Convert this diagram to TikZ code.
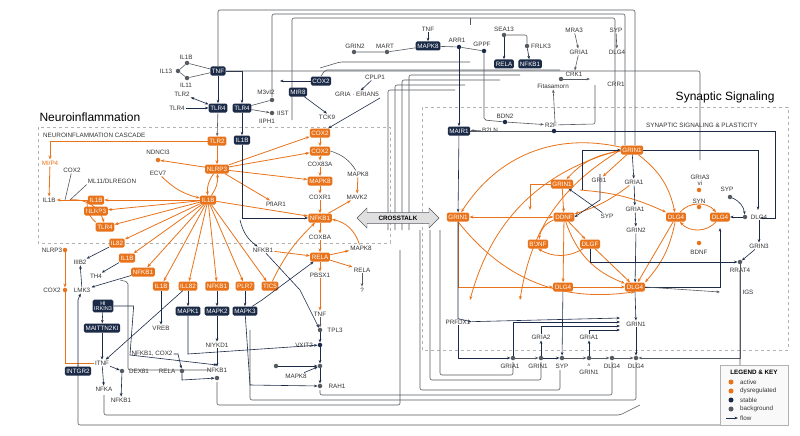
\documentclass[tikz,border=0pt]{standalone}
\usepackage{fontspec}
\setmainfont{Liberation Sans}
\usetikzlibrary{arrows.meta,shapes.arrows}
\definecolor{org}{HTML}{E8731A}
\definecolor{nav}{HTML}{1B2A47}
\definecolor{gr}{HTML}{555A60}
\begin{document}
\begin{tikzpicture}[x=1pt,y=-1pt,font=\fontsize{6.3}{7}\selectfont,
 dk/.style={fill=nav,text=white,rounded corners=1.5pt,inner sep=1.6pt,minimum height=9pt},
 or/.style={fill=org,text=white,rounded corners=1.5pt,inner sep=1.6pt,minimum height=9pt},
 lb/.style={text=black!80,inner sep=1pt},
 dt/.style={circle,fill=gr,inner sep=0pt,minimum size=4.5pt},
 oa/.style={draw=org,thick,-{Stealth[length=4pt]}},
 na/.style={draw=nav,semithick,-{Stealth[length=3.5pt]}},
 ga/.style={draw=gr,semithick,-{Stealth[length=3.5pt]}},
 gl/.style={draw=gr,semithick,rounded corners=2pt}]
\useasboundingbox (0,0) rectangle (800,436);
\fill[white] (0,0) rectangle (800,436);
% boxes
\draw[gray!60,dashed] (38,127) rectangle (390,243);
\draw[gray!60,dashed] (422,107) rectangle (788,350);
\node[anchor=west,font=\fontsize{12}{13}\selectfont] (t1) at (36,117) {Neuroinflammation};
\node[anchor=east,font=\fontsize{12}{13}\selectfont] (t2) at (778,97) {Synaptic Signaling};
\node[anchor=west,lb] (c1) at (42,135) {NEUROINFLAMMATION CASCADE};
\node[anchor=west,lb] (c2) at (645,125) {SYNAPTIC SIGNALING \& PLASTICITY};
% background frame lines
\draw[gl] (218,66) -- (218,10) -- (635,10) -- (635,145);
\draw[gl] (272,97) -- (272,14) -- (625,14) -- (625,145);
\draw[gl] (292,120) -- (292,18) -- (615,18) -- (615,145);
\draw[gl] (470,25) -- (470,18);
\draw[gl] (388,230) -- (388,90) -- (455,90);
\draw[gl] (395,230) -- (395,85) -- (465,85);
\draw[gl] (402,230) -- (402,80) -- (500,80);
\draw[gl] (409,230) -- (409,75) -- (520,75);
\draw[gl] (78,365) -- (78,425) -- (740,425) -- (740,272);
\draw[gl] (104,395) -- (104,415) -- (620,415) -- (640,405);
\draw[gl] (217,382) -- (217,405) -- (400,405) -- (400,250);
\draw[gl] (250,330) -- (250,400) -- (636,400) -- (636,362);
\draw[gl] (320,390) -- (320,395) -- (612,395) -- (612,362);
\draw[gl] (560,370) -- (560,390) -- (420,390) -- (420,230);
\draw[gl] (541,362) -- (541,380) -- (430,380) -- (430,230);
\draw[gl] (513,362) -- (513,375) -- (440,375) -- (440,230);
\draw[gl] (320,68) -- (340,62) -- (470,62);
% top nav cluster
\node[dk] (tnf) at (218,71) {TNF};
\node[dk] (tlr4a) at (218,108) {TLR4};
\node[dk] (tlr4b) at (242,108) {TLR4};
\node[dk] (il1bn) at (242,140) {IL1B};
\node[dk] (mir8) at (298,92) {MIR8};
\node[dk] (cox2n) at (321,81) {COX2};
\node[dk] (mapk8n) at (428,46) {MAPK8};
\node[dk] (relan) at (504,64) {RELA};
\node[dk] (nfkbn) at (530,64) {NFKB1};
\node[dk] (mair1) at (459,131) {MAIR1};
\node[lb] (l_il1b) at (186,57) {IL1B}; \node[dt] (d1) at (187,63) {};
\node[lb] (l_il13) at (166,71) {IL13}; \node[dt] (d2) at (178,71) {};
\node[lb] (l_il11) at (186,85) {IL11}; \node[dt] (d3) at (187,78) {};
\node[lb] (l_tlr2) at (182,94) {TLR2};
\node[lb] (l_tlr4) at (177,108) {TLR4};
\node[lb] (l_m3) at (266,92) {M3vI2}; \node[dt] (d4) at (272,100) {};
\node[dt] (d5) at (272,113) {}; \node[lb] (l_iist) at (283,113) {IIST};
\node[lb] (l_iiph) at (267,121) {IIPH1};
\node[lb] (l_grin2) at (355,46) {GRIN2}; \node[dt] (d6) at (354,52) {};
\node[lb] (l_mart) at (385,46) {MART}; \node[dt] (d7) at (387,52) {};
\node[lb] (l_cplp) at (375,77) {CPLP1};
\node[lb] (l_gria) at (357,94) {GRIA · ERIAN5};
\node[lb] (l_tck9) at (327,117) {TCK9};
\node[lb] (l_tnf2) at (428,29) {TNF};
\node[lb] (l_arr) at (457,40) {ARR1}; \node[dt,fill=nav] (d8) at (459,47) {};
\node[lb] (l_gppf) at (482,44) {GPPF}; \node[dt,fill=nav] (d9) at (484,51) {};
\node[lb] (l_sea) at (504,29) {SEA13}; \node[dt] (d10) at (504,35) {};
\node[lb] (l_frlk) at (541,46) {FRLK3}; \node[dt] (d11) at (527,46) {};
\node[lb] (l_mra) at (574,30) {MRA3};
\node[lb] (l_gria1t) at (579,52) {GRIA1};
\node[lb] (l_syp) at (616,30) {SYP};
\node[lb] (l_dlg4t) at (617,52) {DLG4};
\node[lb] (l_crk) at (574,74) {CRK1}; \node[dt] (d12) at (561,79) {};
\node[lb] (l_fit) at (553,86) {Fitasamorn};
\node[lb] (l_crr) at (616,84) {CRR1};
\node[lb] (l_bdn2) at (505,116) {BDN2}; \node[dt,fill=nav] (d13) at (505,122) {};
\node[lb] (l_r2f) at (551,125) {R2F};
\node[dt,fill=nav] (d14) at (554,131) {};
\node[lb] (l_b2ln) at (490,130) {B2LN};
\draw[gl] (d1) -- (tnf); \draw[gl] (d3) -- (tnf); \draw[gl] (d2) -- (d1); \draw[gl] (d2) -- (d3);
\draw[na] (tnf) -- (tlr4a); \draw[na] (tnf.east) -| (tlr4b);
\draw[gl] (tnf) -- (700,71) -- (700,160);
\draw[na,{Stealth[length=3.5pt]}-{Stealth[length=3.5pt]}] (l_tlr2) -- (tlr4a);
\draw[na] (l_tlr4) -- (tlr4a);
\draw[na] (tlr4b) -- (il1bn);
\draw[gl] (tlr4b) -- (d4); \draw[ga] (tlr4b) -- (d5);
\draw[na] (mir8) -- (l_tck9.north);
\draw[na] (l_cplp) -- (l_gria);
\draw[na] (cox2n.west) -- (280,81);
\draw[gl] (cox2n.north) -- (325,70) -- (560,70);
\draw[gl] (d6) -- (d7) -- (mapk8n);
\draw[na] (l_tnf2) -- (mapk8n);
\draw[gl] (mapk8n) -- (d8) -- (d9);
\draw[na] (d8) -- (mair1);
\draw[na] (d10) -- (relan); \draw[gl] (d10) -| (d11); \draw[na] (d11) -- (nfkbn);
\draw[gl] (d9) -- (484,120) -- (d13);
\draw[ga] (d13) -- (l_r2f);
\draw[ga] (l_b2ln) -- (mair1);
\draw[ga] (l_mra) -- (l_gria1t); \draw[ga] (l_gria1t) -- (l_crk);
\draw[ga] (d12) -- (590,79);
\draw[ga] (l_syp) -- (l_dlg4t);
\draw[gl] (l_r2f) -- (595,124) -- (595,85);
\draw[ga] (555,122) -- (l_fit);
\draw[na] (d14) -- (775,131) -- (775,218) -- (760,218);
% neuro orange
\node[or] (tlr2) at (217,141) {TLR2};
\node[or] (nlrp3) at (217,169) {NLRP3};
\node[or] (il1bh) at (208,200) {IL1B};
\node[or] (o1) at (96,200) {IL1B};
\node[or] (o2) at (96,211) {NLRP3};
\node[or] (o3) at (105,227) {TLR4};
\node[or] (o4) at (117,243) {IL82};
\node[or] (o5) at (127,258) {IL1B};
\node[or] (o6) at (143,272) {NFKB1};
\node[or] (o7) at (161,286) {IL1B};
\node[or] (o8) at (188,286) {ILL82};
\node[or] (o9) at (217,286) {NFKB1};
\node[or] (o10) at (245,286) {PLR7};
\node[or] (o11) at (270,286) {TIC5};
\node[or] (cox2) at (320,133) {COX2};
\node[or] (cox2b) at (320,151) {COX2};
\node[or] (mapk8o) at (320,181) {MAPK8};
\node[or] (nfkbo) at (320,218) {NFKB1};
\node[or] (relao) at (320,257) {RELA};
\draw[ga] (tlr4a) -- (tlr2);
\draw[na] (380,98) -- (cox2);
\node[lb] (l_nd) at (158,152) {NDNCI3}; \node[dt,fill=org] (d15) at (158,160) {};
\node[lb] (l_ecv) at (158,173) {ECV7};
\node[lb,text=org] (l_mi) at (50,163) {MI/P4};
\node[lb] (l_cx) at (72,170) {COX2};
\node[lb] (l_ml) at (112,181) {ML11/DLREGON};
\node[lb] (l_il1bl) at (49,200) {IL1B};
\node[lb] (l_pf) at (276,204) {PfIAR1};
\node[lb] (l_c83) at (320,164) {COX83A};
\node[lb] (l_mk8) at (358,174) {MAPK8};
\node[lb] (l_cr1) at (320,197) {COXR1};
\node[lb] (l_mv2) at (357,197) {MAVK2};
\node[lb] (l_cba) at (320,237) {COXBA};
\node[lb] (l_mk8b) at (361,248) {MAPK8};
\node[lb] (l_rel2) at (362,270) {RELA};
\node[lb] (l_q) at (362,290) {?};
\node[lb] (l_pb) at (320,275) {PBSX1};
\node[lb] (l_nf2) at (263,250) {NFKB1};
\node[lb] (l_nl) at (52,250) {NLRP3}; \node[dt,fill=org] (d16) at (65,250) {};
\node[lb] (l_iii) at (80,262) {IIIB2};
\node[lb] (l_th) at (96,276) {TH4};
\node[lb] (l_cx2) at (52,290) {COX2}; \node[dt,fill=org] (d17) at (65,290) {};
\node[lb] (l_lmk) at (82,290) {LMK3};
\node[dk,align=center,font=\fontsize{5.5}{5.5}\selectfont] (hi) at (103,306) {HI\\IRKIN3};
\node[dk] (mai) at (102,328) {MAITTN2KI};
\node[dk] (intg) at (78,371) {INTGR2};
\node[dk] (mk1) at (188,311) {MAPK1};
\node[dk] (mk2) at (217,311) {MAPK2};
\node[dk] (mk3) at (245,311) {MAPK3};
\node[lb] (l_vreb) at (161,328) {VREB};
\node[lb] (l_niy) at (217,345) {NIYKD1};
\node[lb] (l_nc) at (152,354) {NFKB1, COX2};
\node[lb] (l_itnf) at (102,363) {ITNF};
\node[dt] (d18) at (122,371) {}; \node[lb] (l_dex) at (139,371) {DEX81};
\node[lb] (l_rel3) at (167,371) {RELA}; \node[dt] (d19) at (182,371) {};
\node[lb] (l_nfka) at (104,389) {NFKA};
\node[lb] (l_nfb3) at (121,400) {NFKB1};
\node[lb] (l_nfb4) at (217,370) {NFKB1}; \node[dt] (d20) at (217,378) {};
\node[lb] (l_tnf3) at (320,314) {TNF};
\node[dt] (d21) at (320,330) {}; \node[lb] (l_tpl) at (335,330) {TPL3};
\node[dt,fill=nav] (d22) at (320,345) {}; \node[lb] (l_vx) at (304,345) {VXIT2};
\node[dt] (d23) at (320,366) {}; \node[dt] (d24) at (276,366) {};
\node[lb] (l_mk8c) at (296,376) {MAPK8};
\node[dt] (d25) at (320,386) {}; \node[lb] (l_rah) at (337,386) {RAH1};
% orange edges
\draw[oa] (tlr2) -- (nlrp3);
\draw[oa] (tlr2.west) -- (50,141) -- (l_mi);
\draw[oa] (l_mi) -- (l_il1bl) ;
\draw[oa] (nlrp3) -- (d15); \draw[oa] (l_ecv) to[bend right=15] (il1bh);
\draw[oa] (nlrp3) to[bend right=20] (il1bh); \draw[oa] (il1bh) to[bend right=20] (nlrp3);
\foreach \t in {cox2,cox2b,mapk8o} \draw[oa] (nlrp3) -- (\t);
\draw[oa] (nlrp3) -- (l_pf);
\draw[oa] (il1bh) -- (nfkbo);
\foreach \t in {o1,o2,o3,o4,o5,o6,o7,o8,o9,o10,o11} \draw[oa] (il1bh) -- (\t);
\draw[oa] (o1) -- (l_il1bl);
\draw[oa] (70,200) to[bend left=40] (o3);
\draw[oa] (o3) to[bend left=30] (o1.west);
\draw[oa] (cox2) -- (cox2b); \draw[oa] (cox2b) -- (l_c83); \draw[oa] (l_c83) -- (mapk8o);
\draw[oa] (mapk8o) -- (l_cr1); \draw[oa] (l_cr1) -- (nfkbo);
\draw[oa] (l_mk8) -- (l_mv2); \draw[oa] (nfkbo) -- (l_mv2);
\draw[oa] (nfkbo) -- (l_cba); \draw[oa] (l_cba) -- (relao);
\draw[oa] (relao) -- (l_mk8b); \draw[oa] (relao) -- (l_rel2);
\draw[oa] (l_mk8b) to[bend right=30] (nfkbo);
\draw[oa] (o11) to[bend left=10] (nfkbo);
\draw[oa] (l_nf2) -- (relao);
\draw[oa] (relao) -- (l_pb); \draw[oa] (l_pb) -- (l_tnf3);
\draw[oa] (d16) -- (d17); \draw[draw=org,thick] (d17) -- (65,363) -- (l_itnf);
\draw[ga] (l_rel2) -- (l_q);
\draw[gl] (cox2b.east) to[bend left=20] (l_mk8);
\draw[gl] (l_cx) -- (65,200); \draw[gl] (l_ml.south west) -- (70,200);
% navy neuro edges
\draw[na] (il1bn) -- (242,218) -- (nfkbo);
\draw[na] (240,220) to[bend right=20] (l_nf2);
\draw[na] (o4) -- (l_iii); \draw[na] (o5) -- (l_th); \draw[na] (o6) -- (l_lmk);
\draw[na] (hi) -- (mai); \draw[na] (mai) -- (l_itnf);
\draw[na] (intg) -- (78,300) -- (l_lmk);
\draw[na] (l_lmk) -- (l_iii);
\draw[na] (o7) -- (l_vreb);
\draw[na] (o8) -- (mk1); \draw[na] (o9) -- (mk2); \draw[na] (o10) -- (mk3);
\draw[na] (mk2) -- (l_niy); \draw[na] (l_niy) -- (l_nfb4);
\draw[na] (mk1) -- (188,354) -- (d22);
\draw[na] (mk3) -- (262,300) -- (relao);
\draw[na] (o8) -- (l_itnf);
\draw[na] (l_itnf) -- (l_nfka); \draw[na] (l_itnf) -- (d18); \draw[na] (d18) -- (l_nfb3);
\draw[na] (l_nc.east) -- (178,354) -- (d19);
\draw[na] (d19) -- (182,380) -- (d20);
\draw[na] (l_nf2) -- (300,290) -- (d21);
\draw[ga] (l_tnf3) -- (d21); \draw[na] (d21) -- (d22); \draw[na] (d22) -- (d23); \draw[na] (d23) -- (d25);
\draw[na] (d24) -- (d23); \draw[na] (l_mk8c) -- (d23);
\draw[na] (mk3) -- (250,385) -- (d25);
\draw[gl] (120,280) -- (128,282) -- (128,370) -- (210,370);
% crosstalk
\node[double arrow,draw=gr,fill=gray!25,minimum height=82pt,minimum width=20pt,double arrow head extend=3pt,inner sep=1pt,font=\bfseries\fontsize{6.3}{7}\selectfont] (cross) at (398,218) {CROSSTALK};
% synaptic
\node[or] (g1) at (632,150) {GRIN1};
\node[or] (g2) at (562,184) {GRIN1};
\node[or] (grinL) at (458,217) {GRIN1};
\node[or] (ddnf) at (564,217) {DDNF};
\node[or] (dl1) at (676,217) {DLG4};
\node[or] (dl2) at (720,217) {DLG4};
\node[or] (bdnf) at (538,244) {BDNF};
\node[or] (dlgf) at (590,244) {DLGF};
\node[or] (dl3) at (563,287) {DLG4};
\node[or] (dl4) at (635,287) {DLG4};
\draw[na] (mair1) -- (grinL);
\node[lb] (l_gri1) at (599,180) {GRI1};
\node[lb] (l_ga1) at (634,182) {GRIA1};
\node[lb] (l_syp2) at (607,216) {SYP};
\node[lb] (l_ga2) at (635,209) {GRIA1};
\node[lb] (l_gn2) at (636,230) {GRIN2};
\node[lb,align=center] (l_ga3) at (700,180) {GRIA3\\[-1pt]vi};
\node[dt,fill=org] (d26) at (699,190) {};
\node[lb] (l_syn) at (699,201) {SYN}; \node[dt,fill=org] (d27) at (699,207) {};
\node[lb] (l_syp3) at (727,189) {SYP}; \node[dt] (d28) at (730,197) {};
\node[dt] (d29) at (745,217) {}; \node[lb] (l_dl5) at (759,217) {DLG4};
\node[dt,fill=org] (d30) at (699,243) {}; \node[lb] (l_bd2) at (699,252) {BDNF};
\node[lb] (l_gn3) at (759,246) {GRIN3};
\node[dt] (d31) at (740,262) {}; \node[lb] (l_rr) at (740,270) {RRAT4};
\node[lb] (l_igs) at (748,292) {IGS};
\node[lb] (l_prf) at (458,322) {PRFDX1};
\node[lb] (l_gn1) at (636,324) {GRIN1};
\node[lb] (l_gra2) at (541,337) {GRIA2};
\node[lb] (l_gra1) at (589,337) {GRIA1};
\node[dt] (b1) at (513,358) {}; \node[lb] (lb1) at (510,366) {GRIA1};
\node[dt] (b2) at (541,358) {}; \node[lb] (lb2) at (538,366) {GRIN1};
\node[dt] (b3) at (562,358) {}; \node[lb] (lb3) at (562,366) {SYP};
\node[dt] (b4) at (589,358) {}; \node[lb] (lb4) at (589,372) {GRIN1};
\node[lb] (lb4a) at (589,365) {\fontsize{4}{4}\selectfont A};
\node[dt] (b5) at (612,358) {}; \node[lb] (lb5) at (612,366) {DLG4};
\node[dt] (b6) at (636,358) {}; \node[lb] (lb6) at (636,366) {DLG4};
% synaptic edges
\draw[oa] (g1) to[bend right=35] (grinL);
\draw[oa] (g1.west) to[bend right=30] (470,300);
\draw[oa] (g1.west) to[bend right=25] (520,300);
\draw[oa] (g1) to[bend right=20] (g2);
\draw[oa] (g1) -- (l_gri1);
\draw[oa] (g1) to[bend left=20] (dl1);
\draw[oa] (g2) -- (ddnf); \draw[oa] (g2.west) -- (530,184) -- (530,210);
\draw[oa,{Stealth[length=4pt]}-{Stealth[length=4pt]}] (grinL) -- (ddnf);
\draw[oa] (ddnf) -- (dlgf); \draw[oa] (ddnf) to[bend right=30] (bdnf);
\draw[oa] (ddnf) -- (dl3); \draw[oa] (ddnf) to[bend right=25] (dl4);
\draw[oa] (dlgf) to[bend left=30] (bdnf.south);
\draw[oa] (dlgf) -- (dl4);
\draw[oa] (grinL) |- (dl3);
\draw[oa] (dl3) -- (dl4);
\draw[oa] (grinL.south) to[bend right=30] (dl4.south);
\draw[oa] (dl1) -- (dl4); \draw[oa] (dl1) to[bend left=15] (dl4.north east);
\draw[oa] (dl1) to[bend left=50] (dl2);
\draw[oa] (dl2) to[bend left=50] (dl1);
\draw[oa] (l_ga1) to[bend left=10] (ddnf);
\draw[oa] (580,190) to[bend left=10] (dl1);
\draw[na] (g1.east) -| (758,210);
\draw[na] (g1) -- (l_ga1); \draw[na] (l_ga1) -- (l_ga2); \draw[na] (l_ga2) -- (l_gn2);
\draw[na] (l_gn2) -- (dl4);
\draw[na] (l_syp2) -- (g2);
\draw[na] (d28) to[bend left=30] (d29); \draw[na] (d29) -- (dl2);
\draw[na] (l_dl5) -- (l_gn3); \draw[na] (l_gn3) -- (d31);
\draw[na] (dlgf) |- (d31);
\draw[na] (dl4) -| (720,228);
\draw[na] (dl4.south) -- (l_gn1);
\draw[na] (dl3) -- (b3);
\draw[na] (l_gn1) -- (b6);
\draw[na] (grinL) -- (l_prf.north -| grinL) -- (l_prf.east);
\draw[na] (l_prf) -- (458,358) -- (b1);
\draw[ga] (b1) -- (b2); \draw[na] (b2) -- (b3); \draw[ga] (b3) -- (b4); \draw[ga] (b4) -- (b5); \draw[ga] (b5) -- (b6);
\draw[na] (b2) -- (l_gra2); \draw[na] (b4) -- (l_gra1);
\draw[na] (b1) |- (620,322);
\draw[na] (l_gra2) |- (620,326);
\draw[na] (l_gra1) |- (620,330);
\draw[na] (l_prf) -- (620,318);
\draw[ga] (d31) -- (740,358) -- (b6);
\draw[ga] (dl4.east) -- (720,292);
\draw[na] (582,190) -- (582,150) -- (g1.west);
\draw[na] (600,174) -- (600,200) -- (ddnf.east);
\draw[gl] (d14) -- (mair1.east);
\draw[na] (hi.east) -- ++(20,0) -- (130,355) -- (217,365);
% legend
\draw[gray!60,fill=gray!5] (720,365) rectangle (788,425);
\node[font=\bfseries\fontsize{6.3}{7}\selectfont] (lgt) at (754,372) {LEGEND \& KEY};
\node[circle,fill=org,inner sep=0pt,minimum size=5pt] (lg1) at (731,382) {};
\node[lb,anchor=west] (lgt1) at (739,382) {active};
\node[circle,fill=org,inner sep=0pt,minimum size=5pt] (lg2) at (731,391) {};
\node[lb,anchor=west] (lgt2) at (739,391) {dysregulated};
\node[circle,fill=nav,inner sep=0pt,minimum size=5pt] (lg3) at (731,400) {};
\node[lb,anchor=west] (lgt3) at (739,400) {stable};
\node[circle,fill=gr,inner sep=0pt,minimum size=5pt] (lg4) at (731,409) {};
\node[lb,anchor=west] (lgt4) at (739,409) {background};
\coordinate (lg5a) at (726,418); \coordinate (lg5b) at (738,418);
\draw[na] (lg5a) -- (lg5b);
\node[lb,anchor=west] (lgt5) at (739,418) {flow};
\end{tikzpicture}
\end{document}
